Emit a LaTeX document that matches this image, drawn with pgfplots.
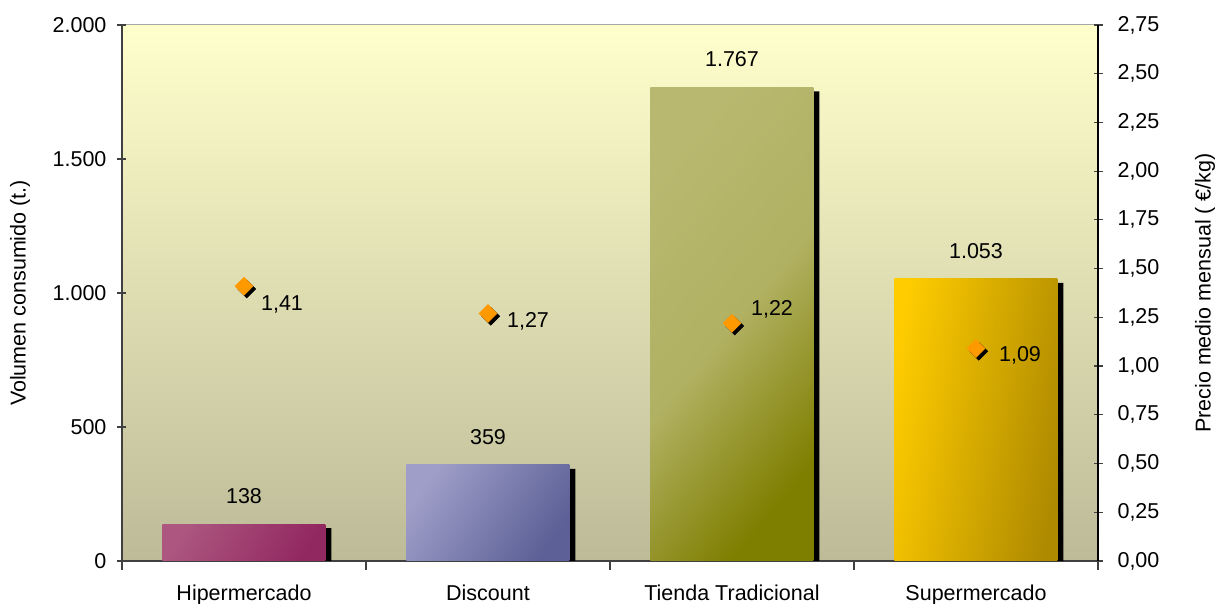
\documentclass[border=0pt]{standalone}
\usepackage{pgfplots}
\pgfplotsset{compat=1.18}
\usepackage{fontspec}
\setmainfont{Liberation Sans}
\definecolor{bgtop}{RGB}{255,255,204}
\definecolor{bgbot}{RGB}{189,187,152}
\definecolor{hipL}{RGB}{172,86,128}
\definecolor{hipD}{RGB}{146,40,96}
\definecolor{disL}{RGB}{158,158,200}
\definecolor{disD}{RGB}{92,96,150}
\definecolor{tieL}{RGB}{184,184,112}
\definecolor{tieD}{RGB}{126,126,0}
\definecolor{supL}{RGB}{255,204,0}
\definecolor{supD}{RGB}{174,138,0}
\definecolor{mk}{RGB}{255,153,0}
\definecolor{axc}{RGB}{64,64,64}
\begin{document}
\begin{tikzpicture}[font=\fontsize{10.75}{13}\selectfont]
\begin{axis}[name=ax1, at={(0,0)}, anchor=south west,
  scale only axis, width=488pt, height=268pt,
  xmin=-0.5, xmax=3.5, ymin=0, ymax=2000,
  axis x line*=bottom, axis y line*=left,
  axis line style={draw=axc, line width=0.6pt, -},
  axis background/.style={top color=bgtop, bottom color=bgbot, draw=gray!70, line width=0.5pt},
  tick align=center, major tick length=4.5pt, tick style={draw=axc, line width=0.6pt},
  ytick={0,500,1000,1500,2000},
  /pgf/number format/assume math mode=true,
  /pgf/number format/1000 sep={.},
  yticklabel style={anchor=east, xshift=-2pt},
  xtick={-0.5,0.5,1.5,2.5,3.5}, xticklabels={},
  extra x ticks={0,1,2,3},
  extra x tick labels={Hipermercado,Discount,Tienda Tradicional,Supermercado},
  extra x tick style={major tick length=0pt, xticklabel style={anchor=base, yshift=-20pt}},
  every axis y label/.style={at={(axis description cs:0,0.5)}, xshift=-51pt, anchor=center, rotate=90},
  ylabel={Volumen consumido (t.)},
  ybar, bar width=81.5pt, bar shift=0pt,
  nodes near coords style={anchor=south, inner sep=0pt, yshift=10pt, text=black},
]
% shadows
\addplot[fill=black, draw=none, bar shift=3pt, yshift=-2pt] coordinates {(0,138) (1,359) (2,1767) (3,1053)};
% bars
\addplot[draw=none, shading=axis, top color=hipL, bottom color=hipD, shading angle=60, nodes near coords] coordinates {(0,138)};
\addplot[draw=none, shading=axis, top color=disL, bottom color=disD, shading angle=55, nodes near coords] coordinates {(1,359)};
\addplot[draw=none, shading=axis, top color=tieL, bottom color=tieD, middle color=tieL!88!tieD, shading angle=50, nodes near coords] coordinates {(2,1767)};
\addplot[draw=none, shading=axis, top color=supL, bottom color=supD, shading angle=80, nodes near coords] coordinates {(3,1053)};
\end{axis}
\begin{axis}[at={(0,0)}, anchor=south west,
  scale only axis, width=488pt, height=268pt,
  xmin=-0.5, xmax=3.5, ymin=0, ymax=2.75,
  axis x line=none, axis y line*=right,
  axis line style={draw=black, line width=0.6pt, -},
  tick align=center, major tick length=4.5pt, tick style={draw=axc, line width=0.6pt},
  ytick={0,0.25,...,2.8},
  /pgf/number format/assume math mode=true,
  yticklabel style={/pgf/number format/fixed, /pgf/number format/fixed zerofill, /pgf/number format/precision=2, /pgf/number format/use comma, anchor=west, xshift=4pt},
  every axis y label/.style={at={(axis description cs:1,0.5)}, xshift=53.5pt, anchor=center, rotate=90},
  ylabel={Precio medio mensual ( €/kg)},
]
\addplot[only marks, mark=square*, mark size=3.1pt, mark options={rotate=45, fill=black, draw=black}, xshift=1.4pt, yshift=-1.4pt] coordinates {(0,1.41) (1,1.27) (2,1.22) (3,1.09)};
\addplot[only marks, mark=square*, mark size=3.1pt, mark options={rotate=45, fill=mk, draw=mk}] coordinates {(0,1.41) (1,1.27) (2,1.22) (3,1.09)};
\node[xshift=19pt, yshift=-9pt] at (axis cs:0,1.41) {1,41};
\node[xshift=20pt, yshift=-4pt] at (axis cs:1,1.27) {1,27};
\node[xshift=20pt, yshift=7pt] at (axis cs:2,1.22) {1,22};
\node[xshift=22pt, yshift=-3.5pt] at (axis cs:3,1.09) {1,09};
\end{axis}
\pgfresetboundingbox
\path[use as bounding box] (-61pt,-21.5pt) rectangle (552pt,280.5pt);
\end{tikzpicture}
\end{document}
